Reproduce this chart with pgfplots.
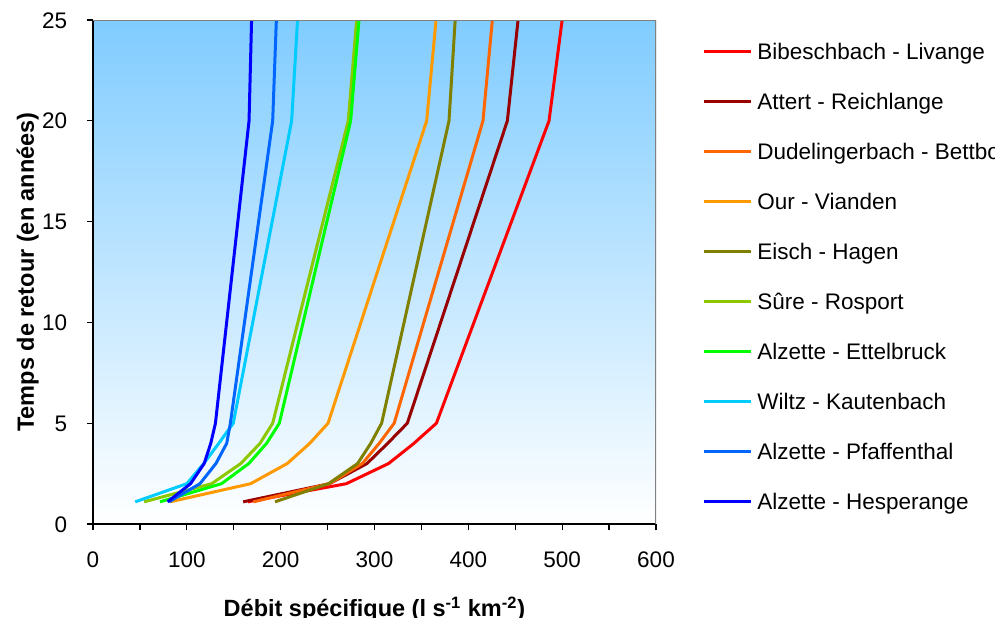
\documentclass[border=0pt]{standalone}
\usepackage{pgfplots}
\pgfplotsset{compat=1.18}
\usepackage{fontspec}
\setmainfont{Liberation Sans}
\definecolor{cBib}{RGB}{255,0,0}
\definecolor{cAtt}{RGB}{153,0,0}
\definecolor{cDud}{RGB}{255,102,0}
\definecolor{cOur}{RGB}{255,153,0}
\definecolor{cEis}{RGB}{128,128,0}
\definecolor{cSur}{RGB}{140,200,0}
\definecolor{cEtt}{RGB}{0,255,0}
\definecolor{cWil}{RGB}{0,204,255}
\definecolor{cPfa}{RGB}{0,102,255}
\definecolor{cHes}{RGB}{0,0,255}
\definecolor{bgtop}{RGB}{128,204,255}
\begin{document}
\fontsize{11.25}{13.5}\selectfont
\begin{tikzpicture}
\useasboundingbox (0,0) rectangle (497.5pt,308.5pt);
\begin{axis}[
  at={(46.5pt,46.5pt)}, anchor=south west,
  scale only axis, width=281.5pt, height=252pt,
  xmin=0, xmax=600, ymin=0, ymax=25,
  axis lines*=left,
  axis line style={black, line width=0.8pt},
  axis background/.style={top color=bgtop, bottom color=white},
  xtick={0,100,...,600}, minor xtick={50,150,...,550},
  ytick={0,5,...,25},
  tick align=outside,
  major tick length=3pt, minor tick length=3pt,
  every tick/.style={black, line width=0.6pt},
  /pgf/number format/assume math mode=true,
  tick label style={font=\fontsize{11.25}{13.5}\selectfont, inner sep=0pt},
  xticklabel style={anchor=base, yshift=-18.5pt},
  yticklabel style={anchor=base east, xshift=-9.75pt, yshift=-4pt},
  xlabel={\bfseries Débit spécifique (l s\textsuperscript{-1} km\textsuperscript{-2})},
  ylabel={\bfseries Temps de retour (en années)},
  label style={font=\fontsize{11.75}{14}\selectfont, inner sep=0pt},
  xlabel style={at={(axis description cs:0.5,-0.1845)}, anchor=base},
  ylabel style={at={(axis description cs:-0.1048,0.5)}, anchor=base},
  legend style={at={(axis description cs:1.0817,0.988)}, anchor=north west,
    draw=none, fill=none, inner sep=0pt, row sep=0pt,
    font=\fontsize{11.25}{13.5}\selectfont,
    nodes={inner sep=0pt, text height=16.5pt, text depth=8.5pt}},
  legend cell align=left,
  legend image code/.code={\draw[#1] (0pt,0pt) -- (23.5pt,0pt);},
  every axis plot/.append style={line width=1.5pt, line join=round},
]
\addplot[cBib] coordinates {(165,1.1) (270,2) (315,3) (342,4) (366,5) (486,20) (500,25)};
\addlegendentry{\hspace{2.5pt}Bibeschbach - Livange}
\addplot[cAtt] coordinates {(160,1.1) (252,2) (292,3) (314,4) (335,5) (441.6,20) (453,25)};
\addlegendentry{\hspace{2.5pt}Attert - Reichlange}
\addplot[cDud] coordinates {(171,1.1) (252,2) (287,3) (305,4) (321,5) (415.6,20) (425.6,25)};
\addlegendentry{\hspace{2.5pt}Dudelingerbach - Bettborn}
\addplot[cOur] coordinates {(82,1.1) (168,2) (207,3) (231,4) (250.5,5) (355.6,20) (365.6,25)};
\addlegendentry{\hspace{2.5pt}Our - Vianden}
\addplot[cEis] coordinates {(194,1.1) (251,2) (282,3) (296,4) (307.6,5) (379.4,20) (386,25)};
\addlegendentry{\hspace{2.5pt}Eisch - Hagen}
\addplot[cSur] coordinates {(54.5,1.1) (126.5,2) (157.5,3) (178,4) (191.5,5) (272,20) (281,25)};
\addlegendentry{\hspace{2.5pt}Sûre - Rosport}
\addplot[cEtt] coordinates {(71.4,1.1) (137,2) (166,3) (185,4) (198.6,5) (274.6,20) (283.5,25)};
\addlegendentry{\hspace{2.5pt}Alzette - Ettelbruck}
\addplot[cWil] coordinates {(45,1.1) (100,2) (118,3) (134,4) (149.5,5) (211.7,20) (218,25)};
\addlegendentry{\hspace{2.5pt}Wiltz - Kautenbach}
\addplot[cPfa] coordinates {(81,1.1) (114,2) (131,3) (142.5,4) (146.4,5) (191.5,20) (195.4,25)};
\addlegendentry{\hspace{2.5pt}Alzette - Pfaffenthal}
\addplot[cHes] coordinates {(79.5,1.1) (104,2) (118.5,3) (125.5,4) (130.5,5) (166.3,20) (169,25)};
\addlegendentry{\hspace{2.5pt}Alzette - Hesperange}
\draw[gray, line width=0.8pt] (rel axis cs:0,1) -- (rel axis cs:1,1) -- (rel axis cs:1,0);
\end{axis}
\end{tikzpicture}
\end{document}
